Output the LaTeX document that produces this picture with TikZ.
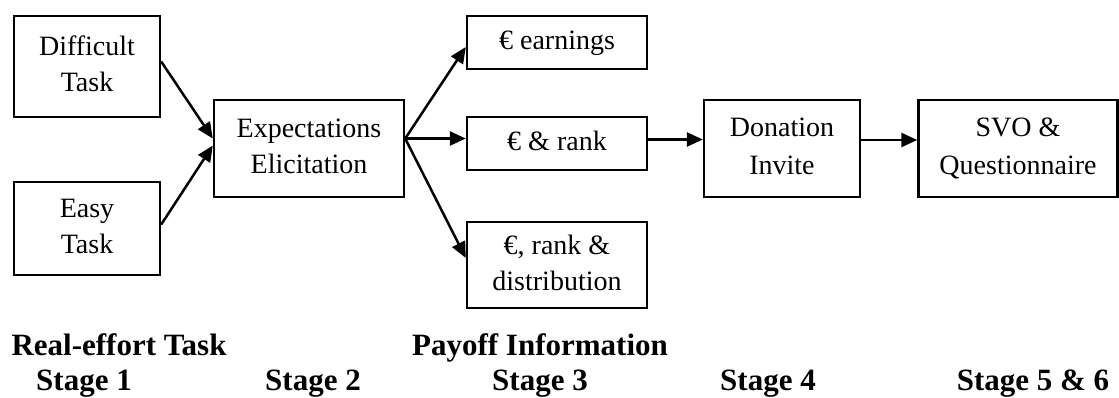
\documentclass[tikz,border=0pt]{standalone}
\usepackage{fontspec}
\setmainfont{Liberation Serif}
\usetikzlibrary{arrows.meta}
\begin{document}
\begin{tikzpicture}[x=1pt,y=-1pt,
  box/.style={draw=black,line width=2.4pt,rectangle,inner sep=0pt,align=center,
    font=\fontsize{28}{36}\selectfont},
  conn/.style={line width=2.5pt,-{Triangle[length=16pt,width=14pt]}},
  stagelabel/.style={inner sep=0pt,anchor=base,font=\fontsize{31}{36}\selectfont\bfseries}]
\useasboundingbox (0,0) rectangle (1119,397);
\node[box,minimum width=146pt,minimum height=101pt] (diff) at (87,66.5) {\raisebox{2.5pt}{\strut Difficult}\\\raisebox{2.5pt}{\strut Task}};
\node[box,minimum width=146pt,minimum height=93pt] (easy) at (87,228.5) {\strut Easy\\\strut Task};
\node[box,minimum width=190pt,minimum height=97pt] (expe) at (309,148.5) {\strut Expectations\\\strut Elicitation};
\node[box,minimum width=180pt,minimum height=53pt] (earn) at (557,42.5) {\strut € earnings};
\node[box,minimum width=180pt,minimum height=53pt] (rank) at (557,143.5) {\strut € \& rank};
\node[box,minimum width=180pt,minimum height=86pt] (dist) at (557,265) {\strut €, rank \&\\\strut distribution};
\node[box,minimum width=156pt,minimum height=97pt] (dona) at (782,148.5) {\raisebox{1.5pt}{\strut Donation}\\\strut Invite};
\node[box,minimum width=199pt,minimum height=97pt] (svo) at (1018,148.5) {\raisebox{1.5pt}{\strut SVO \&}\\\strut Questionnaire};

\draw[conn] ([yshift=5pt]diff.east) -- ([yshift=10pt]expe.west);
\draw[conn] ([yshift=4pt]easy.east) -- ([yshift=3pt]expe.west);
\draw[conn] ([yshift=10pt]expe.east) -- ([yshift=-4.5pt]earn.west);
\draw[conn] ([yshift=10pt]expe.east) -- ([yshift=5pt]rank.west);
\draw[conn] ([yshift=10pt]expe.east) -- ([yshift=7pt]dist.west);
\draw[conn] ([yshift=4pt]rank.east) -- ([yshift=9pt]dona.west);
\draw[conn] ([yshift=8.5pt]dona.east) -- ([yshift=8.5pt]svo.west);

\node[stagelabel] (lreal) at (119,355) {Real-effort Task};
\node[stagelabel] (lpay) at (540,355) {Payoff Information};
\node[stagelabel] (s1) at (84,390) {Stage 1};
\node[stagelabel] (s2) at (313,390) {Stage 2};
\node[stagelabel] (s3) at (540,390) {Stage 3};
\node[stagelabel] (s4) at (768,390) {Stage 4};
\node[stagelabel] (s5) at (1033,390) {Stage 5 \& 6};
\end{tikzpicture}
\end{document}
